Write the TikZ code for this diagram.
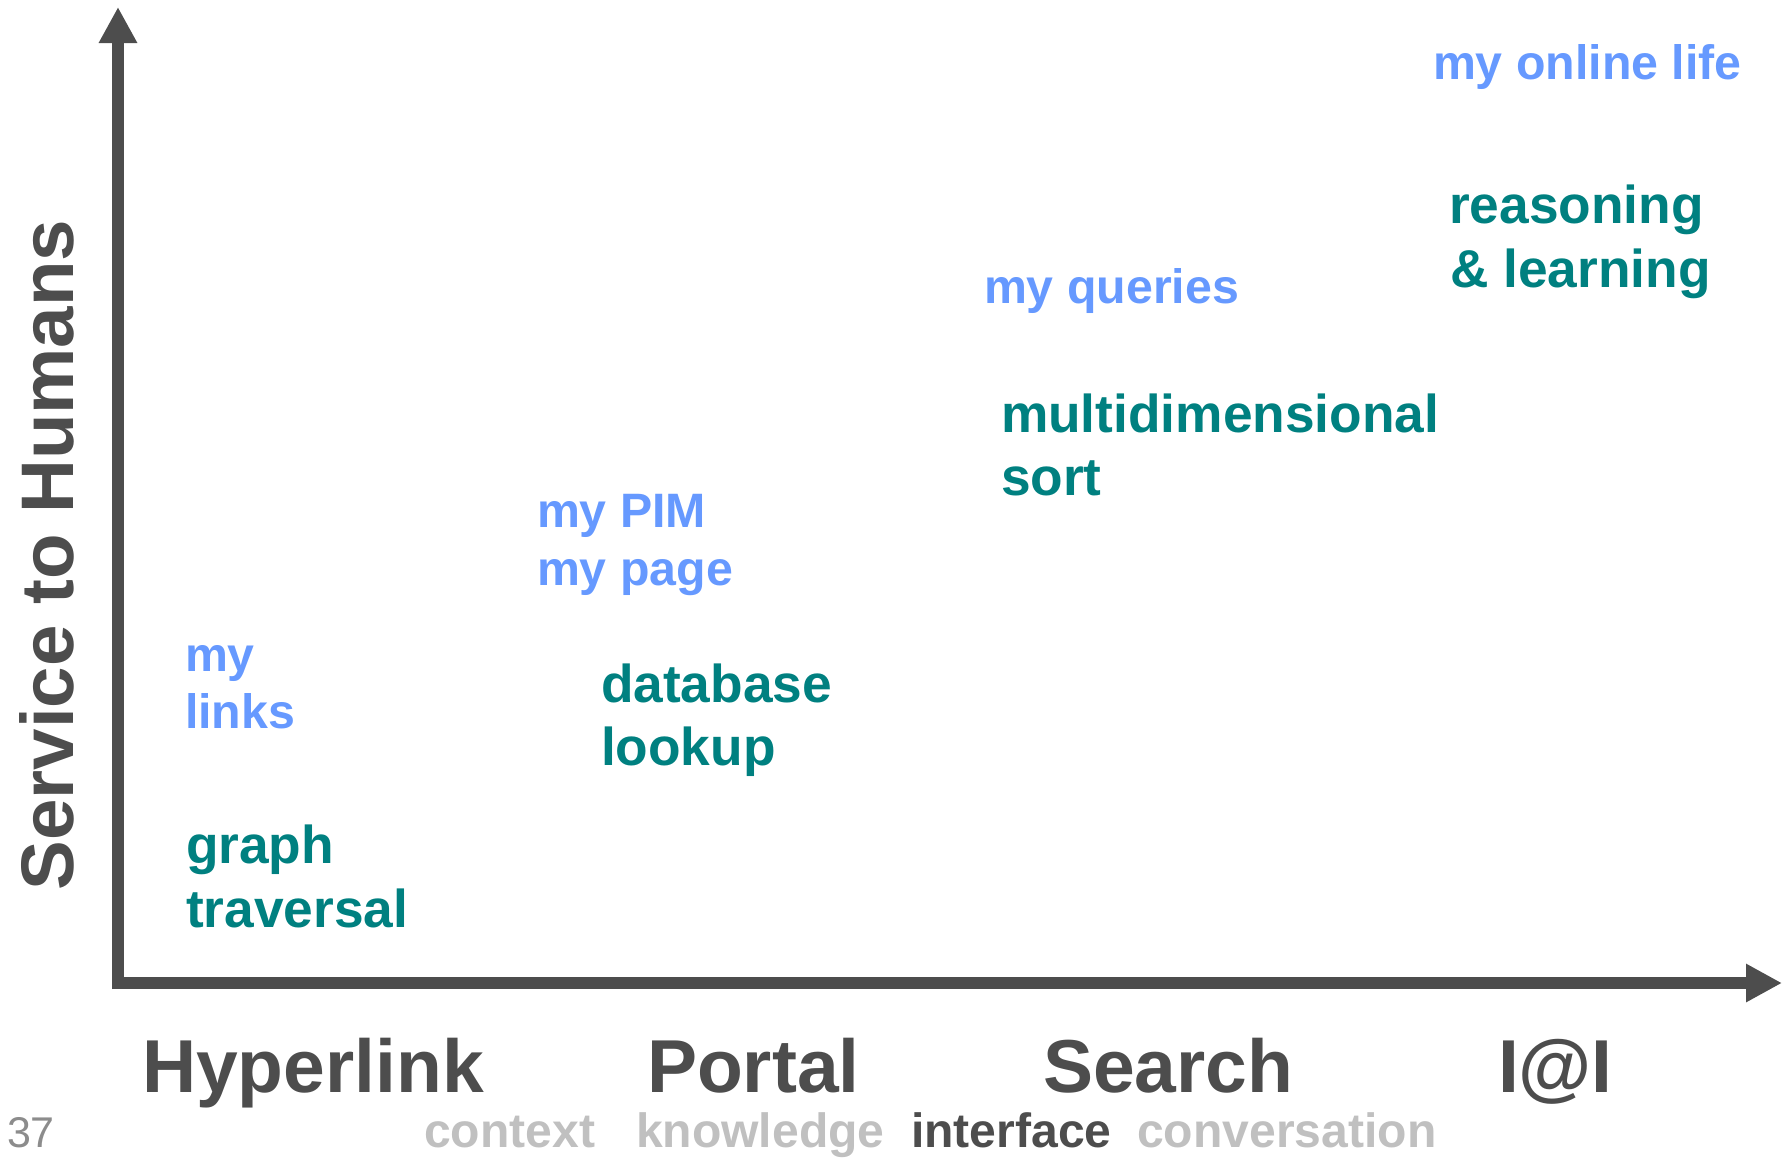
\documentclass[tikz,border=0pt]{standalone}
\usepackage{fontspec}
\setmainfont{Liberation Sans}
\usetikzlibrary{arrows.meta}

\definecolor{axisgray}{HTML}{4D4D4D}
\definecolor{mineblue}{HTML}{6699FF}
\definecolor{methteal}{HTML}{008080}
\definecolor{fadegray}{HTML}{C0C0C0}
\definecolor{pagegray}{HTML}{8C8C8C}

\tikzset{
  axisline/.style={draw=axisgray, line width=12pt,
    -{Triangle[length=36pt,width=36pt]}},
  txt/.style={anchor=base west, inner sep=0pt, outer sep=0pt},
  personal/.style={txt, text=mineblue, font=\bfseries\fontsize{48.3pt}{58pt}\selectfont},
  method/.style={txt, text=methteal, font=\bfseries\fontsize{53.3pt}{63pt}\selectfont},
  era/.style={txt, text=axisgray, font=\bfseries\fontsize{75pt}{90pt}\selectfont},
  mode/.style={txt, text=fadegray, font=\bfseries\fontsize{48.1pt}{58pt}\selectfont},
  modeon/.style={mode, text=axisgray},
}

\begin{document}
\begin{tikzpicture}[x=1pt, y=-1pt]
  \useasboundingbox (0,0) rectangle (1784,1157);

  % axes
  \coordinate (ybase) at (118,989);
  \coordinate (ytip)  at (118,7);
  \coordinate (xbase) at (112,983);
  \coordinate (xtip)  at (1782,983);
  \draw[axisline] (ybase) -- (ytip);
  \draw[axisline] (xbase) -- (xtip);

  % vertical axis title
  \node[inner sep=0pt, anchor=base, rotate=90, text=axisgray,
        font=\bfseries\fontsize{74.5pt}{90pt}\selectfont] (ytitle) at (73,555) {Service to Humans};

  % Hyperlink era
  \node[personal] (my)    at (185,671) {my};
  \node[personal] (links) at (185,728) {links};
  \node[method]   (graph) at (186,863) {graph};
  \node[method]   (trav)  at (186,927) {traversal};

  % Portal era
  \node[personal] (pim)   at (537,527) {my PIM};
  \node[personal] (page)  at (537,585) {my page};
  \node[method]   (db)    at (601,702) {database};
  \node[method]   (look)  at (601,765) {lookup};

  % Search era
  \node[personal] (query) at (984,303) {my queries};
  \node[method]   (multi) at (1001,432) {multidimensional};
  \node[method]   (sort)  at (1001,495) {sort};

  % I@I era
  \node[personal] (life)  at (1433,79) {my online life};
  \node[method]   (reas)  at (1449,223) {reasoning};
  \node[method]   (learn) at (1450,287) {\& learning};

  % eras along the horizontal axis
  \node[era] (hyper)  at (142,1092) {Hyperlink};
  \node[era] (portal) at (647,1092) {Portal};
  \node[era] (search) at (1043,1092) {Search};
  \node[era] (iai)    at (1498,1092) {I@I};

  % modes of interaction
  \node[mode]   (context) at (424,1147) {context};
  \node[mode]   (know)    at (636,1147) {knowledge};
  \node[modeon] (inter)   at (911,1147) {interface};
  \node[mode]   (conv)    at (1137,1147) {conversation};

  % page number
  \node[txt, text=pagegray, font=\fontsize{43pt}{50pt}\selectfont] (pnum) at (7,1147) {37};
\end{tikzpicture}
\end{document}
